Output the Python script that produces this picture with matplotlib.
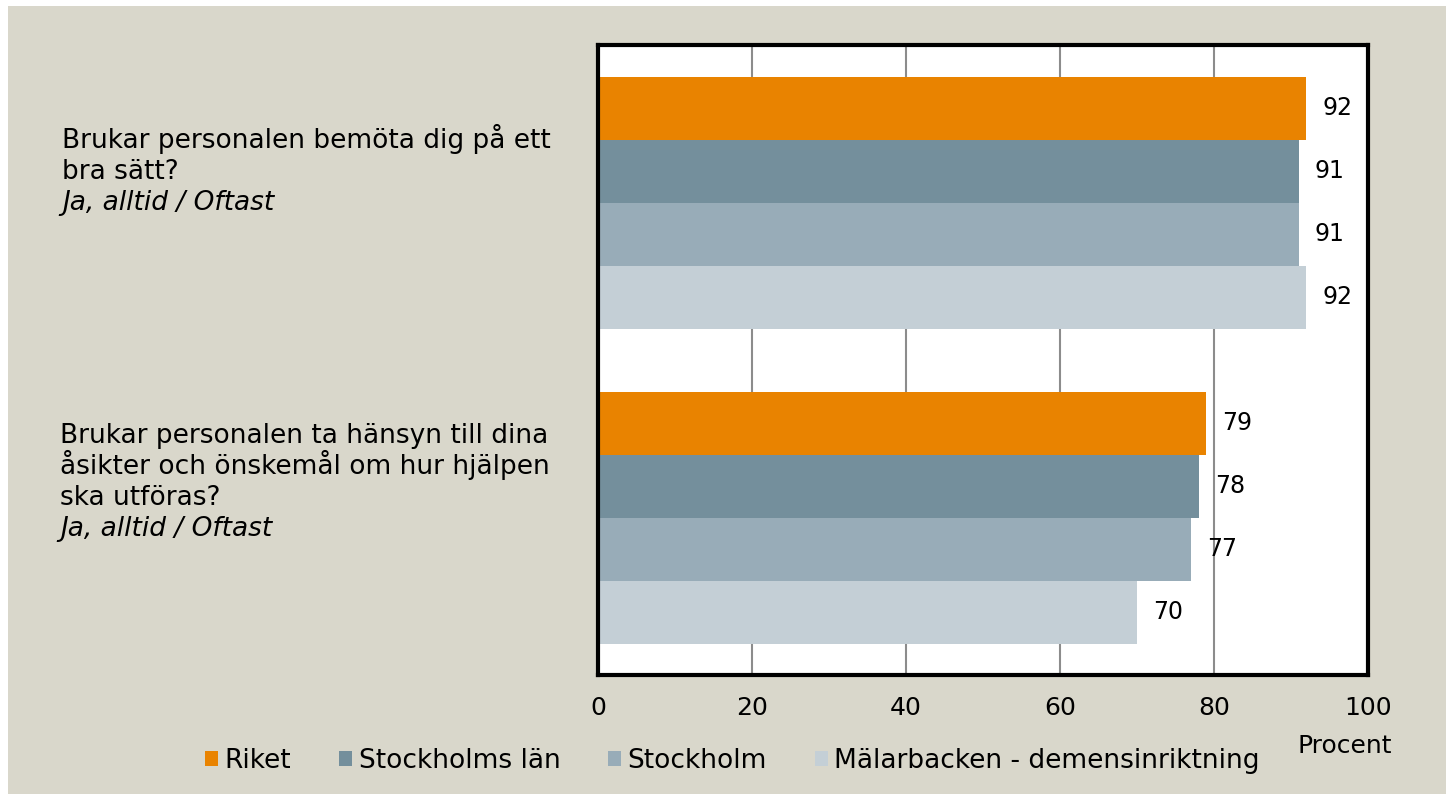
import numpy as np
import matplotlib.pyplot as plt
from matplotlib.patches import Rectangle

# Data (percent answering "Ja, alltid / Oftast")
serier = ['Riket', 'Stockholms län', 'Stockholm', 'Mälarbacken - demensinriktning']
farger = ['#E98300', '#748F9C', '#98ACB8', '#C4CFD6']
bemota = [92, 91, 91, 92]        # Brukar personalen bemöta dig på ett bra sätt?
hansyn = [79, 78, 77, 70]        # Brukar personalen ta hänsyn till dina åsikter ...
fragor = [
    ['Brukar personalen bemöta dig på ett', 'bra sätt?'],
    ['Brukar personalen ta hänsyn till dina', 'åsikter och önskemål om hur hjälpen', 'ska utföras?'],
]
svar = 'Ja, alltid / Oftast'
xticks = [0, 20, 40, 60, 80, 100]

plt.rcParams['font.family'] = 'DejaVu Sans'
W, H = 1446, 794
fig = plt.figure(figsize=(W / 100, H / 100), dpi=100, facecolor='white')
# beige background panel (white strip at top and left)
fig.patches.append(Rectangle((8 / W, 0), 1 - 8 / W, 1 - 6 / H, transform=fig.transFigure,
                             facecolor='#D9D7CB', edgecolor='none', zorder=-5))

ax = fig.add_axes([598 / W, 1 - 675 / H, 770 / W, 630 / H])
ax.set_facecolor('white')

h = 0.2
grupper = [bemota, hansyn]
for g, varden in enumerate(grupper):
    for i, v in enumerate(varden):
        y = g + (i - 1.5) * h
        ax.barh(y, v, height=h, color=farger[i], edgecolor='none', zorder=2,
                label=serier[i] if g == 0 else None)
        ax.text(v + 2.1, y, str(v), ha='left', va='center', fontsize=17, zorder=3)

ax.set_xlim(0, 100)
ax.set_ylim(1.5, -0.5)
ax.set_xticks(xticks)
ax.set_yticks([])
ax.tick_params(axis='x', length=0, pad=15, labelsize=18)
ax.grid(axis='x', color='#8C8C8C', linewidth=1.5, zorder=1)
ax.set_axisbelow(True)
for s in ax.spines.values():
    s.set_linewidth(3)
    s.set_color('black')

ax.set_xlabel('Procent', fontsize=18)
ax.xaxis.set_label_coords((1345 - 598) / 770, (675 - 746) / 630)
ax.xaxis.label.set_va('center')

# question texts to the left of the plot
baslinjer = [[148, 179, 210], [443, 474, 505, 536]]
xpos = [62, 60]
for g, rader in enumerate(fragor):
    for k, rad in enumerate(rader):
        fig.text(xpos[g] / W, 1 - baslinjer[g][k] / H, rad, fontsize=19, va='baseline', ha='left')
    fig.text(xpos[g] / W, 1 - baslinjer[g][len(rader)] / H, svar, fontsize=19,
             style='italic', va='baseline', ha='left')

leg = fig.legend(loc='center left', bbox_to_anchor=(205 / W, 1 - 761 / H), ncol=4,
                 frameon=False, fontsize=19, handlelength=0.5, handleheight=0.5,
                 handletextpad=0.25, columnspacing=1.8, borderaxespad=0, borderpad=0)

fig.savefig('out.png', dpi=100, facecolor=fig.get_facecolor())
